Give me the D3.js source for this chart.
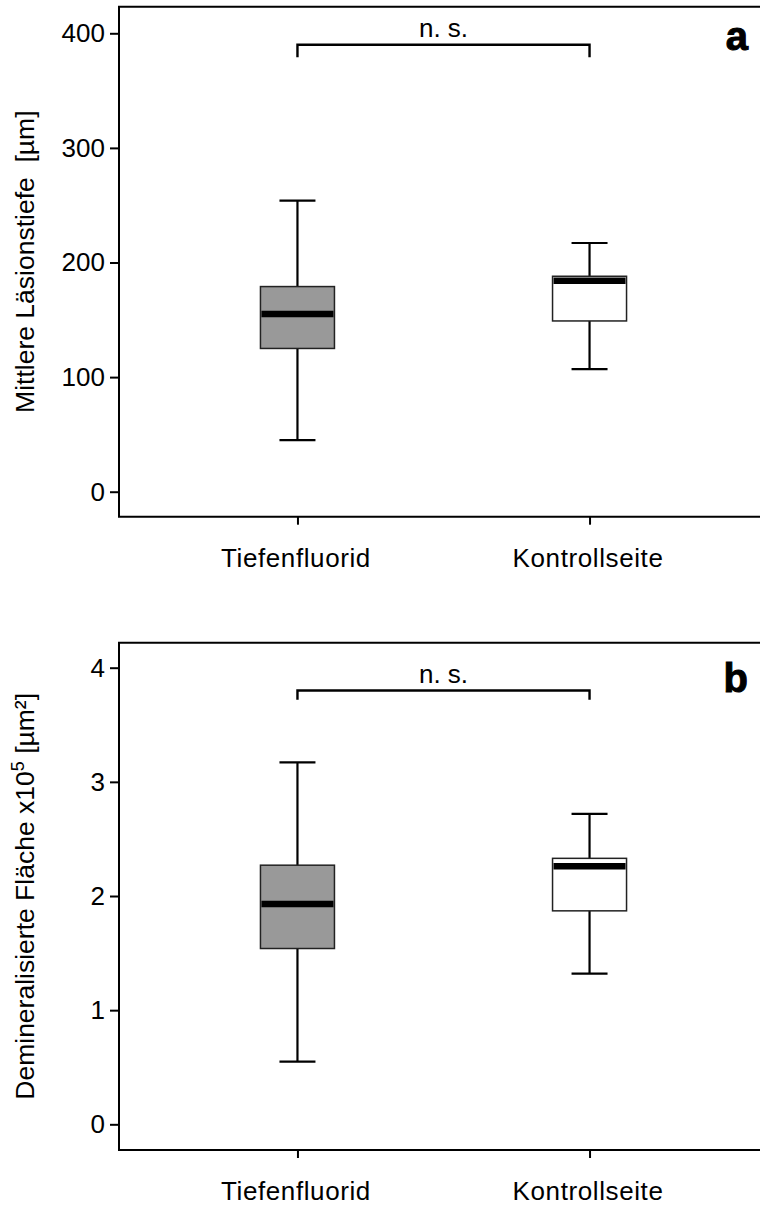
<!DOCTYPE html>
<html>
<head>
<meta charset="utf-8">
<script src="https://cdn.jsdelivr.net/npm/d3@7"></script>
<style>
  html, body { margin: 0; padding: 0; background: #fff; }
  svg { display: block; font-family: 'Liberation Sans', Arial, sans-serif; }
</style>
</head>
<body>
<svg id="chart" width="760" height="1207"></svg>
<script>
const categories = ['Tiefenfluorid', 'Kontrollseite']
const boxFills = ['#999999', '#ffffff']

// a: mittlere Läsionstiefe [µm]
const depthMin = [45, 107]
const depthQ1 = [125, 149]
const depthMedian = [155, 184]
const depthQ3 = [179, 188]
const depthMax = [254, 217]
const depthTicks = [0, 100, 200, 300, 400]
const depthBracket = [390, 379]

// b: demineralisierte Fläche x10^5 [µm²]
const areaMin = [0.55, 1.32]
const areaQ1 = [1.54, 1.87]
const areaMedian = [1.93, 2.26]
const areaQ3 = [2.27, 2.33]
const areaMax = [3.17, 2.72]
const areaTicks = [0, 1, 2, 3, 4]
const areaBracket = [3.80, 3.72]

const LEFT = 119
const RIGHT = 768
const BOX_HALF = 37
const CAP_HALF = 18

const svg = d3.select('#chart')

const x = d3.scalePoint()
  .domain(categories)
  .range([LEFT, RIGHT])
  .padding(0.611)

function drawPanel({ top, bottom, domain, ticks, min, q1, median, q3, max, bracket, letter, letterY, title }) {
  const y = d3.scaleLinear().domain(domain).range([bottom, top])
  const g = svg.append('g')

  // frame (right side runs off the picture)
  g.append('path')
    .attr('d', `M${RIGHT},${top}H${LEFT}V${bottom}H${RIGHT}`)
    .attr('fill', 'none')
    .attr('stroke', '#000')
    .attr('stroke-width', 2)

  const yAxis = g.append('g')
    .attr('transform', `translate(${LEFT},0)`)
    .call(d3.axisLeft(y).tickValues(ticks).tickSize(9).tickPadding(5).tickFormat(d3.format('d')))
  yAxis.select('.domain').remove()
  yAxis.selectAll('.tick line').attr('stroke', '#000').attr('stroke-width', 2)
  yAxis.selectAll('.tick text')
    .attr('fill', '#000')
    .attr('font-size', 26)
    .attr('font-family', "'Liberation Sans', Arial, sans-serif")

  const xAxis = g.append('g')
    .attr('transform', `translate(0,${bottom})`)
    .call(d3.axisBottom(x).tickSize(8))
  xAxis.select('.domain').remove()
  xAxis.selectAll('.tick line').attr('stroke', '#000').attr('stroke-width', 2)
  xAxis.selectAll('.tick text')
    .attr('x', -2)
    .attr('y', 50)
    .attr('dy', 0)
    .attr('fill', '#000')
    .attr('font-size', 26)
    .attr('letter-spacing', 0.6)
    .attr('font-family', "'Liberation Sans', Arial, sans-serif")

  // y title
  const label = g.append('text')
    .attr('transform', 'rotate(-90)')
    .attr('x', -(top + bottom) / 2)
    .attr('y', 34)
    .attr('text-anchor', 'middle')
    .attr('font-size', 26.5)
  title(label)

  const rows = categories.map((c, i) => ({ c, i, min: min[i], q1: q1[i], median: median[i], q3: q3[i], max: max[i] }))
  const box = g.append('g').selectAll('g').data(rows).enter().append('g')

  box.append('line')
    .attr('x1', d => x(d.c)).attr('x2', d => x(d.c))
    .attr('y1', d => y(d.q3)).attr('y2', d => y(d.max))
  box.append('line')
    .attr('x1', d => x(d.c)).attr('x2', d => x(d.c))
    .attr('y1', d => y(d.q1)).attr('y2', d => y(d.min))
  box.append('line')
    .attr('x1', d => x(d.c) - CAP_HALF).attr('x2', d => x(d.c) + CAP_HALF)
    .attr('y1', d => y(d.max)).attr('y2', d => y(d.max))
  box.append('line')
    .attr('x1', d => x(d.c) - CAP_HALF).attr('x2', d => x(d.c) + CAP_HALF)
    .attr('y1', d => y(d.min)).attr('y2', d => y(d.min))
  box.selectAll('line').attr('stroke', '#000').attr('stroke-width', 2.2)

  box.append('rect')
    .attr('x', d => x(d.c) - BOX_HALF)
    .attr('width', BOX_HALF * 2)
    .attr('y', d => y(d.q3))
    .attr('height', d => y(d.q1) - y(d.q3))
    .attr('fill', d => boxFills[d.i])
    .attr('stroke', '#222')
    .attr('stroke-width', 1.5)

  box.append('line')
    .attr('x1', d => x(d.c) - BOX_HALF + 1).attr('x2', d => x(d.c) + BOX_HALF - 1)
    .attr('y1', d => y(d.median)).attr('y2', d => y(d.median))
    .attr('stroke', '#000')
    .attr('stroke-width', 6.5)

  // significance bracket
  const x0 = x(categories[0])
  const x1 = x(categories[1])
  g.append('path')
    .attr('d', `M${x0},${y(bracket[1])}V${y(bracket[0])}H${x1}V${y(bracket[1])}`)
    .attr('fill', 'none')
    .attr('stroke', '#000')
    .attr('stroke-width', 2.4)
  g.append('text')
    .attr('x', (x0 + x1) / 2)
    .attr('y', y(bracket[0]) - 8)
    .attr('text-anchor', 'middle')
    .attr('font-size', 26)
    .text('n. s.')

  g.append('text')
    .attr('x', 748)
    .attr('y', top + letterY)
    .attr('text-anchor', 'end')
    .attr('font-size', 40)
    .attr('font-weight', 'bold')
    .attr('stroke', '#000')
    .attr('stroke-width', 1)
    .text(letter)
}

drawPanel({
  top: 6.7, bottom: 516.7, domain: [-21.8, 423.2], ticks: depthTicks,
  min: depthMin, q1: depthQ1, median: depthMedian, q3: depthQ3, max: depthMax,
  bracket: depthBracket, letter: 'a', letterY: 43,
  title: t => t.text('Mittlere Läsionstiefe\u00a0 [µm]')
})

drawPanel({
  top: 642.7, bottom: 1150, domain: [-0.225, 4.219], ticks: areaTicks,
  min: areaMin, q1: areaQ1, median: areaMedian, q3: areaQ3, max: areaMax,
  bracket: areaBracket, letter: 'b', letterY: 49,
  title: t => {
    t.append('tspan').text('Demineralisierte Fläche x10')
    t.append('tspan').attr('font-size', 18).attr('dy', -10).text('5')
    t.append('tspan').attr('dy', 10).text(' [µm²]')
  }
})
</script>
</body>
</html>
